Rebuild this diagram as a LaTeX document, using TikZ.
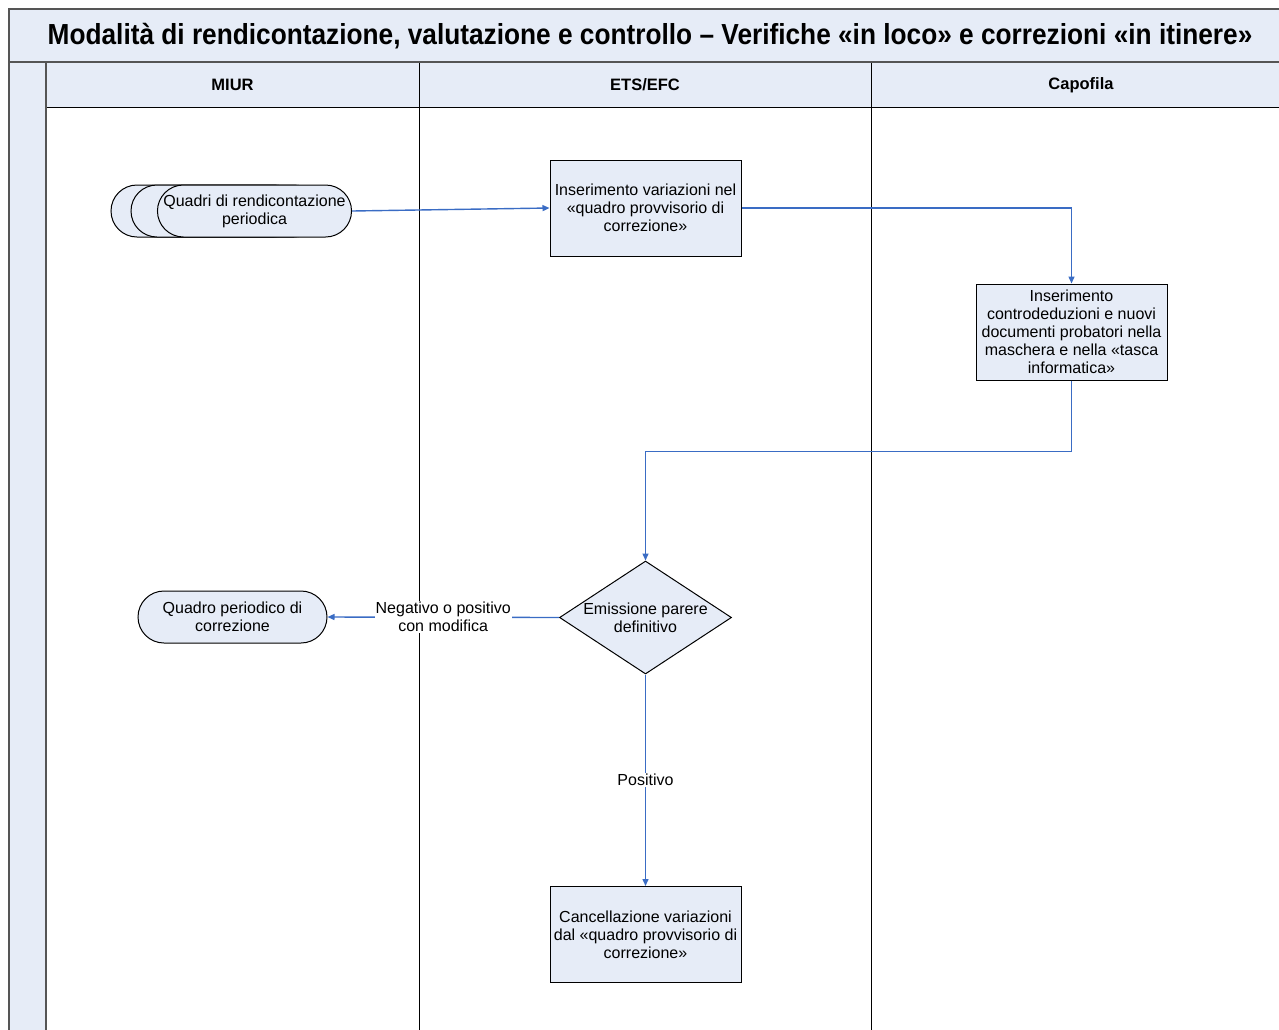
\documentclass[tikz,border=0pt]{standalone}
\usepackage{fontspec}
\setmainfont{Liberation Sans}
\newfontfamily\titlefont[FakeStretch=0.905]{Liberation Sans}
\usetikzlibrary{shapes.geometric,shapes.misc,arrows.meta}
\definecolor{fillc}{HTML}{E6ECF7}
\definecolor{arrowc}{HTML}{3A6CC4}
\definecolor{framec}{HTML}{555555}
\tikzset{
  txt/.style={font=\fontsize{16}{18}\selectfont},
  stepbox/.style={txt, draw=black, line width=1, fill=fillc, minimum width=191, minimum height=96, align=center, inner sep=0},
  pill/.style={txt, draw=black, line width=1, fill=fillc, rounded rectangle, minimum width=189, minimum height=52, align=center, inner sep=0},
  decision/.style={draw=black, line width=1, fill=fillc, diamond, minimum width=172, minimum height=113, inner sep=0},
  arr/.style={draw=arrowc, line width=1.4, -{Triangle[length=7pt,width=6pt]}},
  lbl/.style={txt, fill=white, inner sep=1, align=center},
  hdr/.style={font=\bfseries\fontsize{16.5}{18}\selectfont},
  frameline/.style={draw=framec, line width=2},
  laneline/.style={draw=black, line width=1}
}
\begin{document}
\begin{tikzpicture}[x=1pt,y=-1pt]
\useasboundingbox (0,0) rectangle (1279,1029);
% pool frame
\fill[fillc] (9,9) rectangle (1300,62);
\fill[fillc] (9,62) rectangle (46,1040);
\fill[fillc] (46,62) rectangle (1300,107);
\draw[laneline] (46,107) -- (1300,107);
\draw[laneline] (419,62) -- (419,1040);
\draw[laneline] (871,62) -- (871,1040);
\draw[frameline] (1300,9) -- (9,9) -- (9,1040);
\draw[frameline] (9,62) -- (1300,62);
\draw[frameline] (46,62) -- (46,1040);
% title and headers
\node[font=\titlefont\bfseries\fontsize{29}{34}\selectfont] (title) at (650,36) {Modalità di rendicontazione, valutazione e controllo – Verifiche «in loco» e correzioni «in itinere»};
\node[hdr] (hmiur) at (232.5,85) {MIUR};
\node[hdr] (hets) at (645,85) {ETS/EFC};
\node[hdr] (hcapo) at (1081,85) {Capofila};
% shapes
\node[pill] (q3) at (205.5,211) {};
\node[pill] (q2) at (225.5,211) {};
\node[pill] (q1) at (254.5,211) {Quadri di rendicontazione\\periodica};
\node[stepbox] (b1) at (645.5,208) {Inserimento variazioni nel\\«quadro provvisorio di\\correzione»};
\node[stepbox] (b2) at (1071.5,332) {Inserimento\\controdeduzioni e nuovi\\documenti probatori nella\\maschera e nella «tasca\\informatica»};
\node[decision, label={[txt,align=center]center:Emissione parere\\definitivo}] (d) at (645.5,617.5) {};
\node[pill] (p2) at (232.5,617) {Quadro periodico di\\correzione};
\node[stepbox] (b3) at (645.5,934.5) {Cancellazione variazioni\\dal «quadro provvisorio di\\correzione»};
% connectors
\draw[arr] (q1.east) -- (b1.west);
\draw[arr] (b1.east) -| (b2.north);
\draw[arr] (b2.south) -- ++(0,71) -| (d.north);
\draw[arr] (d.west) -- node[lbl] {Negativo o positivo\\con modifica} (p2.east);
\draw[arr] (d.south) -- node[lbl] {Positivo} (b3.north);
\end{tikzpicture}
\end{document}
